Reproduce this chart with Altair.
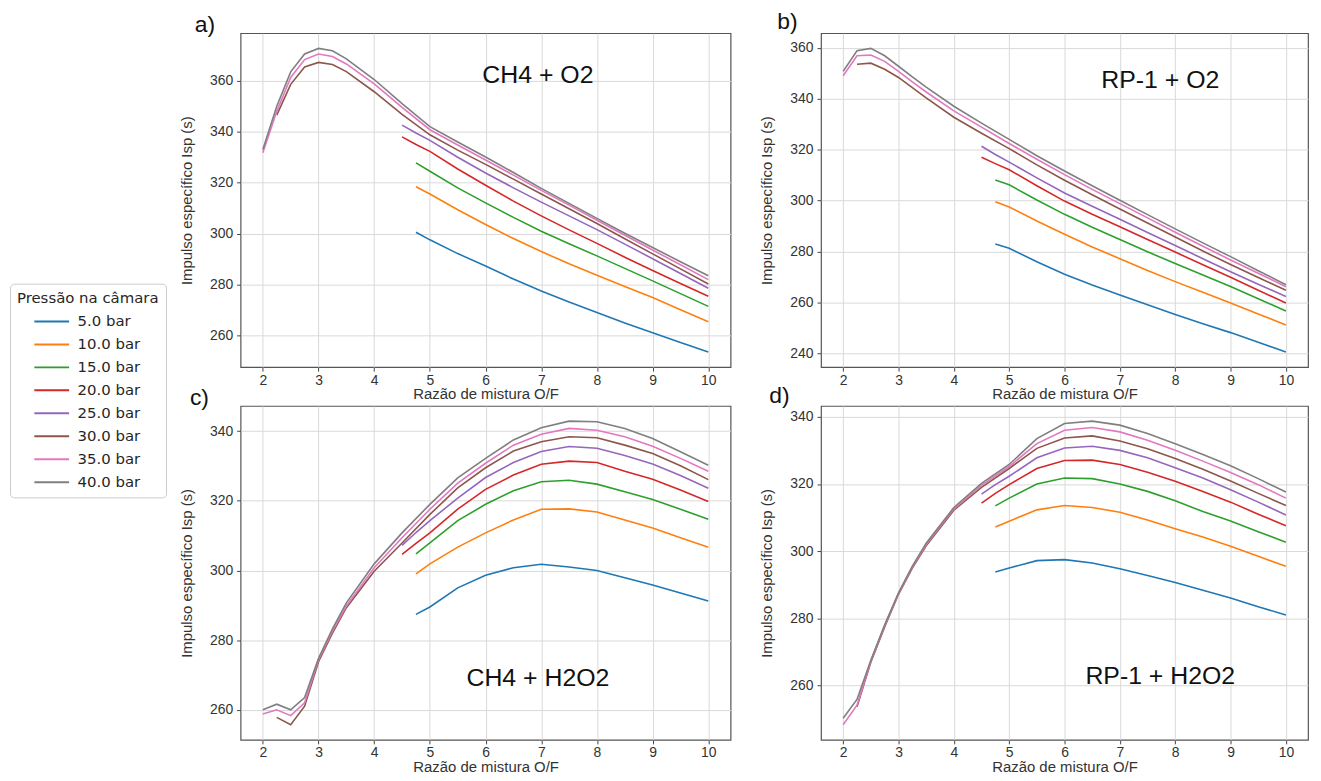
import altair as alt
import pandas as pd

PRESSURES = ["5.0 bar", "10.0 bar", "15.0 bar", "20.0 bar", "25.0 bar", "30.0 bar", "35.0 bar", "40.0 bar"]
COLORS = ["#1f77b4", "#ff7f0e", "#2ca02c", "#d62728", "#9467bd", "#8c564b", "#e377c2", "#7f7f7f"]

OF_FROM_2 = [2, 2.25, 2.5, 2.75, 3, 3.25, 3.5, 4, 4.5, 5, 5.5, 6, 6.5, 7, 7.5, 8, 8.5, 9, 9.5, 10]
OF_FROM_2_25 = OF_FROM_2[1:]
OF_FROM_4_5 = [4.5, 4.75, 5, 5.5, 6, 6.5, 7, 7.5, 8, 8.5, 9, 9.5, 10]
OF_FROM_4_75 = OF_FROM_4_5[1:]
SERIES_OF = [OF_FROM_4_75] * 3 + [OF_FROM_4_5] * 2 + [OF_FROM_2_25] + [OF_FROM_2] * 2
OF_TICKS = [2, 3, 4, 5, 6, 7, 8, 9, 10]

# a) CH4 + O2
A_5 = [300.6, 297.6, 292.2, 287.3, 282.2, 277.5, 273.2, 269.1, 265.0, 261.1, 257.3, 253.6]
A_10 = [318.4, 315.6, 309.4, 303.6, 298.1, 293.0, 288.2, 283.7, 279.3, 275.0, 270.2, 265.5]
A_15 = [327.8, 324.5, 318.0, 312.1, 306.4, 301.0, 296.1, 291.3, 286.4, 281.5, 276.5, 271.5]
A_20 = [338.0, 335.0, 332.3, 325.4, 319.0, 312.8, 307.0, 301.5, 296.2, 290.8, 285.6, 280.5, 275.5]
A_25 = [342.6, 339.5, 336.6, 330.0, 323.8, 318.0, 312.4, 307.0, 301.6, 295.9, 290.2, 284.4, 278.6]
A_30 = [346.5, 358.6, 365.4, 367.2, 366.4, 363.6, 355.7, 346.8, 338.8, 332.8, 327.2, 321.4, 315.6, 309.8, 304.0, 298.0, 292.1, 286.2, 280.3]
A_35 = [331.8, 348.0, 361.3, 368.3, 370.5, 369.5, 366.6, 358.8, 349.6, 340.8, 334.8, 328.9, 323.0, 317.0, 311.2, 305.3, 299.4, 293.6, 287.8, 282.0]
A_40 = [333.0, 350.0, 363.5, 370.5, 372.7, 371.8, 368.6, 360.5, 351.0, 342.0, 336.0, 330.1, 324.0, 317.8, 311.9, 306.0, 300.2, 294.6, 289.0, 283.5]

# b) RP-1 + O2
B_5 = [283.0, 281.3, 276.0, 271.1, 266.9, 263.0, 259.1, 255.3, 251.7, 248.2, 244.4, 240.6]
B_10 = [299.5, 297.5, 292.0, 286.8, 281.8, 277.2, 272.6, 268.2, 264.0, 259.8, 255.5, 251.2]
B_15 = [308.1, 306.2, 300.2, 294.6, 289.5, 284.7, 279.9, 275.3, 270.8, 266.3, 261.5, 256.7]
B_20 = [317.0, 314.5, 312.1, 305.8, 299.8, 294.6, 289.7, 284.7, 279.8, 274.8, 269.9, 264.8, 259.8]
B_25 = [321.3, 318.1, 315.1, 308.9, 303.0, 297.8, 292.7, 287.5, 282.4, 277.2, 272.1, 267.2, 262.4]
B_30 = [353.5, 353.9, 351.5, 348.3, 344.3, 340.3, 332.7, 326.4, 320.4, 314.0, 308.0, 302.3, 296.7, 291.2, 285.7, 280.2, 274.9, 269.8, 264.8]
B_35 = [349.0, 356.8, 357.1, 354.6, 350.7, 346.6, 342.6, 335.2, 328.8, 322.4, 316.2, 310.2, 304.4, 298.8, 293.2, 287.6, 282.1, 276.7, 271.5, 266.2]
B_40 = [350.7, 358.8, 359.7, 356.8, 352.7, 348.5, 344.5, 337.0, 330.4, 324.0, 317.6, 311.6, 305.8, 300.1, 294.5, 288.9, 283.4, 278.0, 272.5, 267.0]

# c) CH4 + H2O2
C_5 = [287.4, 289.5, 295.0, 298.6, 300.8, 301.8, 301.0, 300.0, 297.9, 295.8, 293.5, 291.2]
C_10 = [299.0, 301.9, 306.7, 310.8, 314.5, 317.6, 317.7, 316.8, 314.5, 312.2, 309.4, 306.7]
C_15 = [304.8, 307.9, 314.3, 319.0, 322.9, 325.5, 325.9, 324.8, 322.6, 320.4, 317.6, 314.7]
C_20 = [304.6, 307.8, 310.8, 317.6, 323.3, 327.4, 330.5, 331.4, 331.0, 328.5, 326.2, 323.1, 319.8]
C_25 = [307.2, 310.9, 314.3, 320.8, 326.7, 331.0, 334.2, 335.6, 335.1, 333.0, 330.6, 327.3, 323.6]
C_30 = [257.8, 255.7, 261.0, 273.8, 282.0, 289.3, 299.8, 307.9, 316.1, 323.7, 329.5, 334.3, 337.0, 338.4, 338.1, 336.0, 333.6, 330.1, 326.1]
C_35 = [258.8, 260.0, 258.3, 262.0, 274.4, 282.6, 289.8, 300.8, 309.4, 317.6, 325.1, 330.8, 336.0, 339.1, 340.8, 340.3, 338.4, 335.7, 332.2, 328.5]
C_40 = [260.0, 261.6, 260.0, 263.5, 274.8, 283.2, 290.7, 301.9, 310.8, 319.0, 326.6, 332.2, 337.5, 341.0, 342.9, 342.7, 340.8, 337.9, 334.1, 330.2]

# d) RP-1 + H2O2
D_5 = [293.8, 295.0, 297.2, 297.5, 296.5, 294.8, 292.8, 290.7, 288.4, 286.1, 283.5, 281.0]
D_10 = [307.2, 308.9, 312.3, 313.6, 313.0, 311.6, 309.3, 306.7, 304.2, 301.5, 298.5, 295.5]
D_15 = [313.5, 315.8, 320.0, 321.8, 321.6, 320.0, 317.8, 315.0, 311.8, 309.0, 305.8, 302.7]
D_20 = [314.3, 317.2, 319.8, 324.6, 327.0, 327.1, 325.8, 323.5, 320.8, 317.8, 314.6, 311.0, 307.6]
D_25 = [317.0, 319.8, 322.3, 327.8, 330.7, 331.2, 330.0, 327.8, 324.8, 321.8, 318.3, 314.6, 310.8]
D_30 = [253.7, 267.0, 277.5, 287.2, 295.0, 301.6, 312.2, 319.0, 324.6, 330.6, 333.7, 334.3, 332.8, 330.5, 327.6, 324.4, 320.9, 317.2, 313.6]
D_35 = [248.4, 254.2, 267.3, 277.8, 287.4, 295.3, 302.0, 312.6, 319.6, 325.2, 332.0, 336.0, 336.8, 335.5, 333.0, 330.0, 326.8, 323.4, 319.8, 315.8]
D_40 = [250.3, 255.9, 267.6, 278.1, 287.6, 295.6, 302.4, 313.0, 320.2, 325.8, 333.5, 338.0, 338.7, 337.5, 335.0, 332.0, 328.8, 325.4, 321.6, 317.6]

PANEL_LABELS = ["a)", "b)", "c)", "d)"]
PANEL_NAMES = ["CH4 + O2", "RP-1 + O2", "CH4 + H2O2", "RP-1 + H2O2"]
NOTE_OF = [6.94, 7.73, 6.94, 7.73]
NOTE_ISP = [362.1, 347.3, 269.1, 263.0]
Y_TICKS = [
    [260, 280, 300, 320, 340, 360],
    [240, 260, 280, 300, 320, 340, 360],
    [260, 280, 300, 320, 340],
    [260, 280, 300, 320, 340],
]
X_TITLE = "Razão de mistura O/F"
Y_TITLE = "Impulso específico Isp (s)"
LEGEND_TITLE = "Pressão na câmara"

LABEL_OFFSETS = [(-46, -8), (-44, -11), (-51, -8), (-52, -10)]
WIDTHS = [493, 490, 493, 490]
HEIGHT = 336
FONT = "Liberation Sans"


def panel(series, idx):
    rows = []
    for p, xs, ys in zip(PRESSURES, SERIES_OF, series):
        for x, y in zip(xs, ys):
            rows.append({"pressure": p, "of": x, "isp": y})
    df = pd.DataFrame(rows)
    lo, hi = df["isp"].min(), df["isp"].max()
    pad = 0.05 * (hi - lo)
    xenc = alt.X("of:Q", scale=alt.Scale(domain=[1.6, 10.4], nice=False, zero=False),
                 axis=alt.Axis(values=OF_TICKS, title=X_TITLE, format="d"))
    yenc = alt.Y("isp:Q", scale=alt.Scale(domain=[lo - pad, hi + pad], nice=False, zero=False),
                 axis=alt.Axis(values=Y_TICKS[idx], title=Y_TITLE, format="d"))
    lines = alt.Chart(df).mark_line(strokeWidth=1.6).encode(
        x=xenc,
        y=yenc,
        color=alt.Color(
            "pressure:N",
            scale=alt.Scale(domain=PRESSURES, range=COLORS),
            sort=PRESSURES,
            legend=alt.Legend(
                title=LEGEND_TITLE,
                orient="none",
                legendX=-232,
                legendY=252,
                titleFont="DejaVu Sans",
                titleFontSize=15,
                titleFontWeight="normal",
                titleColor="#262626",
                titleAnchor="start",
                titlePadding=6,
                labelFont="DejaVu Sans",
                labelFontSize=15,
                labelColor="#262626",
                labelOffset=16,
                symbolType="M-2,0H2",
                symbolStrokeWidth=2,
                symbolSize=306,
                symbolOffset=25,
                rowPadding=5.1,
                padding=7,
                strokeColor="#cccccc",
                fillColor="white",
                cornerRadius=4,
            ),
        ),
        detail="pressure:N",
    )
    note = alt.Chart(pd.DataFrame({"of": [NOTE_OF[idx]], "isp": [NOTE_ISP[idx]], "t": [PANEL_NAMES[idx]]})).mark_text(
        font=FONT, fontSize=25, color="#111111", align="center", baseline="middle"
    ).encode(x="of:Q", y="isp:Q", text="t:N")
    lx, ly = LABEL_OFFSETS[idx]
    lab = alt.Chart(pd.DataFrame({"t": [PANEL_LABELS[idx]]})).mark_text(
        font=FONT, fontSize=23, color="#111111", align="left", baseline="middle"
    ).encode(x=alt.value(lx), y=alt.value(ly), text="t:N")
    return alt.layer(lines, note, lab).properties(width=WIDTHS[idx], height=HEIGHT)


panels = [panel(s, i) for i, s in enumerate([
    [A_5, A_10, A_15, A_20, A_25, A_30, A_35, A_40],
    [B_5, B_10, B_15, B_20, B_25, B_30, B_35, B_40],
    [C_5, C_10, C_15, C_20, C_25, C_30, C_35, C_40],
    [D_5, D_10, D_15, D_20, D_25, D_30, D_35, D_40],
])]

chart = alt.concat(*panels, columns=2, spacing={"row": 39, "column": 91}, bounds="flush").properties(
    padding={"left": 1, "top": 0, "right": 4, "bottom": 4}
).configure_axis(
    labelFont=FONT, labelFontSize=14, labelColor="#333333",
    titleFont=FONT, titleFontSize=15, titleFontWeight="normal", titleColor="#333333",
    grid=True, gridColor="#d9d9d9", gridWidth=1, domain=False,
    ticks=True, tickSize=4, tickColor="#444444", tickWidth=1,
).configure_axisX(titlePadding=0, labelPadding=2).configure_axisY(titlePadding=15, labelPadding=4).configure_view(
    stroke="#555555", strokeWidth=1.2
)

chart.save("out.html", embed_options={"renderer": "svg", "actions": False})
